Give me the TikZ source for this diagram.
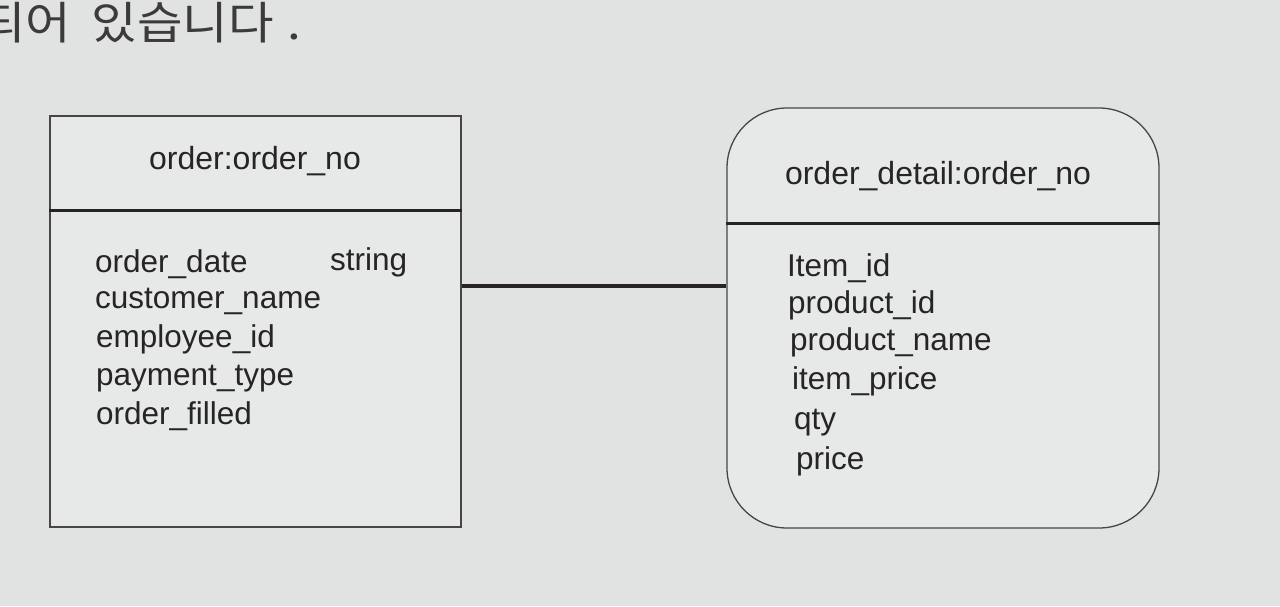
\documentclass[tikz,border=0pt]{standalone}
\usepackage{fontspec}
\setmainfont{Liberation Sans}
\newfontfamily\kofont[FakeStretch=1.1]{Noto Sans CJK KR}
\usetikzlibrary{calc}
\definecolor{bg}{RGB}{224,227,226}
\definecolor{boxbg}{RGB}{231,233,232}
\definecolor{ink}{RGB}{38,36,38}
\tikzset{
  entity/.style={draw=ink!85, line width=1.3pt, fill=boxbg, inner sep=0pt},
  divider/.style={draw=ink, line width=3pt},
  conn/.style={draw=ink, line width=4pt},
  attr/.style={anchor=base west, inner sep=0pt, text=ink, font=\fontsize{31.5}{36}\selectfont},
  title/.style={anchor=center, inner sep=0pt, text=ink, font=\fontsize{32}{36}\selectfont},
}
\begin{document}
\begin{tikzpicture}[x=1pt,y=-1pt]
\useasboundingbox (0,0) rectangle (1280,606);
\fill[bg] (0,0) rectangle (1280,606);
% top korean text (cut off at the left edge as in the reference)
\node[anchor=base west, inner sep=0pt, text=ink!90, font=\kofont\fontsize{45}{50}\selectfont] (ko) at (-20,39) {되어\hspace{20.5pt}있습니다\hspace{14pt}.};
% entities
\node[entity, minimum width=411pt, minimum height=411pt] (order) at (255.5,321.5) {};
\node[entity, rounded corners=60pt, minimum width=432pt, minimum height=420pt] (detail) at (943,318) {};
% dividers
\coordinate (dl) at (0,210);
\coordinate (dr) at (0,223);
\draw[divider] (order.west |- dl) -- (order.east |- dl);
\draw[divider] (detail.west |- dr) -- (detail.east |- dr);
% connector
\coordinate (c) at (0,286);
\draw[conn] (order.east |- c) -- (detail.west |- c);
% titles
\node[title] (t1) at (255,161) {order:order\_no};
\node[title] (t2) at (938,176) {order\_detail:order\_no};
% left attributes
\node[attr] (a1) at (95,272) {order\_date};
\node[attr] (a1t) at (330,270) {string};
\node[attr] (a2) at (95,308) {customer\_name};
\node[attr] (a3) at (96,347) {employee\_id};
\node[attr] (a4) at (96,385) {payment\_type};
\node[attr] (a5) at (96,424) {order\_filled};
% right attributes
\node[attr] (b1) at (787,276) {Item\_id};
\node[attr] (b2) at (788,313) {product\_id};
\node[attr] (b3) at (790,350) {product\_name};
\node[attr] (b4) at (792,389) {item\_price};
\node[attr] (b5) at (794,429) {qty};
\node[attr] (b6) at (796,469) {price};
\end{tikzpicture}
\end{document}
